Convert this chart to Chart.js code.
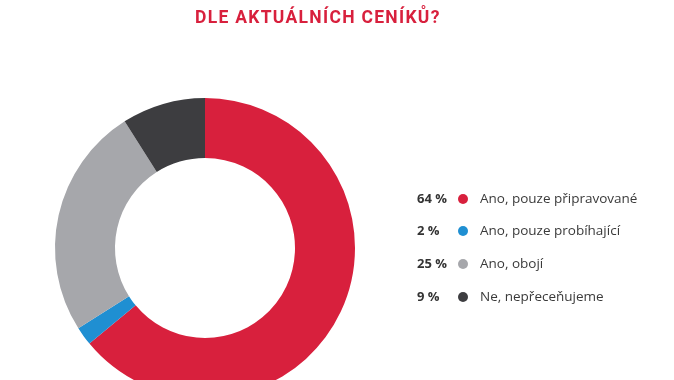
<!DOCTYPE html>
<html><head><meta charset="utf-8">
<script src="https://cdn.jsdelivr.net/npm/chart.js@4"></script>
<style>html,body{margin:0;padding:0;background:#fff;overflow:hidden;width:674px;height:380px}canvas{display:block}</style>
</head><body>
<canvas id="c" width="674" height="400"></canvas>
<script>
const categories = ['Ano, pouze připravované', 'Ano, pouze probíhající', 'Ano, obojí', 'Ne, nepřeceňujeme'];
const values = [64, 2, 25, 9];
const colors = ['#d8203d', '#1f8fd2', '#a6a7ab', '#3d3d40'];
const titleText = 'DLE AKTUÁLNÍCH CENÍKŮ?';

const overlay = {
  id: 'overlay',
  afterDraw(chart) {
    const ctx = chart.ctx;
    ctx.save();
    ctx.fillStyle = '#d8203d';
    ctx.font = 'bold 17.5px Roboto';
    ctx.letterSpacing = '1.3px';
    ctx.textBaseline = 'middle';
    ctx.textAlign = 'left';
    ctx.fillText(titleText, 195, 19);
    ctx.letterSpacing = '0px';
    const ys = [199, 231, 264, 297];
    categories.forEach((c, i) => {
      const y = ys[i];
      ctx.fillStyle = '#333333';
      ctx.font = 'bold 13px "Open Sans"';
      ctx.textAlign = 'left';
      ctx.fillText(values[i] + ' %', 417, y);
      ctx.beginPath();
      ctx.arc(463, y, 5, 0, Math.PI * 2);
      ctx.fillStyle = colors[i];
      ctx.fill();
      ctx.fillStyle = '#3a3a3a';
      ctx.font = '13.5px "Open Sans"';
      ctx.fillText(c, 480, y);
    });
    ctx.restore();
  }
};

new Chart(document.getElementById('c'), {
  type: 'doughnut',
  data: { labels: categories, datasets: [{ data: values, backgroundColor: colors, borderWidth: 0 }] },
  options: {
    responsive: false,
    animation: false,
    cutout: '60%',
    layout: { padding: { left: 55, right: 319, top: 98, bottom: 2 } },
    plugins: { legend: { display: false }, tooltip: { enabled: false }, title: { display: false } }
  },
  plugins: [overlay]
});
</script>
</body></html>
